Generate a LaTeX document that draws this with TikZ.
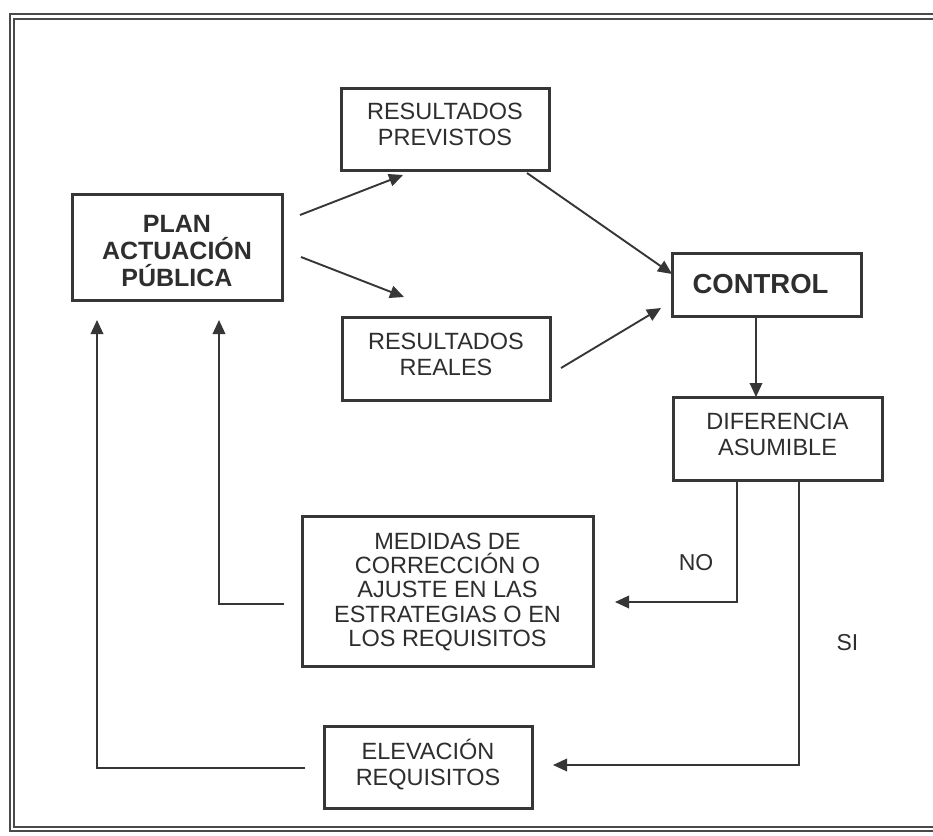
\documentclass[tikz,border=0pt]{standalone}
\usepackage{fontspec}
\setmainfont{Liberation Sans}
\usetikzlibrary{arrows.meta}
\definecolor{ink}{HTML}{2E2E2E}
\definecolor{rule}{HTML}{363636}
\definecolor{framec}{HTML}{4A4A4A}
\tikzset{
  box/.style={draw=rule, line width=3pt, inner sep=0pt},
  txt/.style={inner sep=0pt, align=center, text=ink,
    font=\fontsize{23.5}{26}\selectfont},
  boldtxt/.style={txt, font=\fontsize{25}{27}\selectfont\bfseries},
  conn/.style={draw=rule, line width=1.9pt,
    -{Triangle[length=14pt,width=12.5pt]}},
  lbl/.style={text=ink, inner sep=0pt, font=\fontsize{23}{25}\selectfont},
}
\begin{document}
\begin{tikzpicture}[x=1pt,y=-1pt]
  \useasboundingbox (0,0) rectangle (933,835);
  \clip (0,0) rectangle (933,835);
  \fill[white] (0,0) rectangle (933,835);

  % outer double frame
  \draw[framec, line width=2.2pt, double=white, double distance=2.2pt]
    (12,16.5) rectangle (960,829);

  % boxes
  \node[box, minimum width=210pt, minimum height=106pt] (plan) at (177,247) {};
  \node[box, minimum width=208pt, minimum height=82pt]  (prev) at (445,129) {};
  \node[box, minimum width=208pt, minimum height=83pt]  (real) at (446,358.5) {};
  \node[box, minimum width=189pt, minimum height=63pt]  (ctrl) at (766.5,284.5) {};
  \node[box, minimum width=209pt, minimum height=83pt]  (dif)  at (777.5,438.5) {};
  \node[box, minimum width=291pt, minimum height=150pt] (med)  at (447.5,591) {};
  \node[box, minimum width=208pt, minimum height=82pt]  (elev) at (428,767) {};

  % box texts
  \node[boldtxt] (plant) at ([yshift=-4pt]plan.center) {PLAN\\ACTUACIÓN\\PÚBLICA};
  \node[txt] (prevt) at ([yshift=5pt]prev.center) {RESULTADOS\\PREVISTOS};
  \node[txt] (realt) at ([yshift=4pt]real.center) {RESULTADOS\\REALES};
  \node[boldtxt, font=\fontsize{27.5}{29}\selectfont\bfseries] (ctrlt)
    at ([xshift=-6pt]ctrl.center) {CONTROL};
  \node[txt] (dift) at ([yshift=4pt]dif.center) {DIFERENCIA\\ASUMIBLE};
  \node[txt, font=\fontsize{23.5}{24.2}\selectfont] (medt) at ([yshift=-1pt]med.center)
    {MEDIDAS DE\\CORRECCIÓN O\\AJUSTE EN LAS\\ESTRATEGIAS O EN\\LOS REQUISITOS};
  \node[txt] (elevt) at ([yshift=2pt]elev.center) {ELEVACIÓN\\REQUISITOS};

  % connector end points (the arrows stop short of the boxes)
  \coordinate (p1s) at (300,215);  \coordinate (p1e) at (403,175);
  \coordinate (p2s) at (301,257);  \coordinate (p2e) at (404,297);
  \coordinate (c1s) at (527,173);  \coordinate (c1e) at (672,274);
  \coordinate (c2s) at (561,368);  \coordinate (c2e) at (661,308);
  \coordinate (d1e) at (756,397);
  \coordinate (nos) at (737,480);  \coordinate (noe) at (615,602);
  \coordinate (sis) at (799,480);  \coordinate (sie) at (553,765);
  \coordinate (m1s) at (284,604);  \coordinate (m1e) at (219,320);
  \coordinate (e1s) at (305,768);  \coordinate (e1e) at (97,320);

  % forward flow
  \draw[conn] (p1s) -- (p1e);
  \draw[conn] (p2s) -- (p2e);
  \draw[conn] (c1s) -- (c1e);
  \draw[conn] (c2s) -- (c2e);
  \draw[conn] (ctrl.south -| d1e) -- (d1e);

  % decision branches
  \draw[conn] (nos) |- (noe);
  \draw[conn] (sis) |- (sie);

  % feedback to the plan
  \draw[conn] (m1s) -| (m1e);
  \draw[conn] (e1s) -| (e1e);

  % branch labels
  \node[lbl] (no) at (696,563) {NO};
  \node[lbl] (si) at (847.5,643) {SI};
\end{tikzpicture}
\end{document}
